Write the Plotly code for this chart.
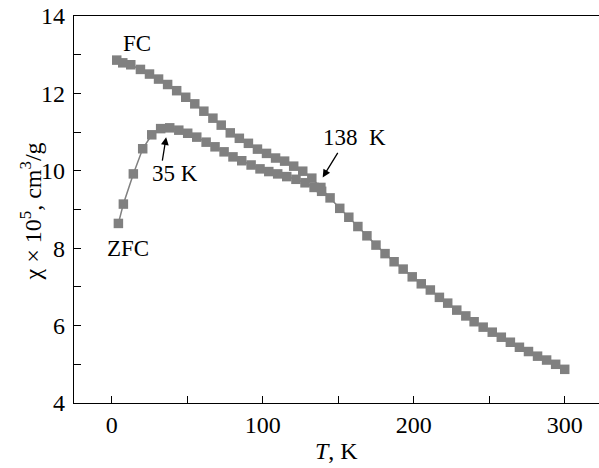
import plotly.graph_objects as go

# Field-cooled (FC) data: temperature (K) and chi x 10^5 (cm^3/g)
fc_T = [3.3, 7.3, 12.6, 19, 25, 31, 37, 43, 49, 55, 61, 67, 72.5, 78.5, 84.5, 90.5,
        96.5, 102.5, 108.5, 114.5, 120.5, 126.5, 132.5, 138.5, 144.6, 151, 157, 163,
        169, 175, 181, 187, 193, 199, 205, 211, 217, 222.5, 228.5, 234.5, 240, 246,
        252, 258, 264, 270, 276, 282, 288, 294, 300]
fc_chi = [12.86, 12.79, 12.74, 12.62, 12.50, 12.37, 12.23, 12.07, 11.90, 11.73, 11.54,
          11.36, 11.18, 10.98, 10.84, 10.71, 10.56, 10.45, 10.33, 10.25, 10.12, 9.99,
          9.81, 9.57, 9.30, 9.03, 8.80, 8.56, 8.32, 8.08, 7.86, 7.65, 7.46, 7.26, 7.08,
          6.92, 6.73, 6.58, 6.40, 6.25, 6.10, 5.96, 5.83, 5.70, 5.57, 5.44, 5.33, 5.21,
          5.11, 5.00, 4.87]

# Zero-field-cooled (ZFC) data
zfc_T = [4.4, 7.7, 14.3, 20.5, 26.5, 32.4, 38.4, 44.4, 50.3, 56.3, 62.5, 68.4, 74.4,
         80.3, 86.1, 92.3, 98.2, 104, 109.9, 115.9, 122, 128, 134, 139]
zfc_chi = [8.64, 9.14, 9.92, 10.57, 10.93, 11.09, 11.11, 11.05, 10.97, 10.87, 10.74,
           10.62, 10.49, 10.36, 10.26, 10.15, 10.05, 9.98, 9.92, 9.85, 9.78, 9.69, 9.57,
           9.47]

x_ticks = [0, 50, 100, 150, 200, 250, 300]
x_labels = ["0", "", "100", "", "200", "", "300"]
y_ticks = [4, 5, 6, 7, 8, 9, 10, 11, 12, 13, 14]
y_labels = ["4", "", "6", "", "8", "", "10", "", "12", "", "14"]

GREY = "#808080"
FONT = "Liberation Serif, Times New Roman, Times, serif"

fig = go.Figure()
fig.add_trace(go.Scatter(x=zfc_T, y=zfc_chi, mode="lines+markers",
                         line=dict(color=GREY, width=1.5),
                         marker=dict(symbol="square", size=9.5, color=GREY),
                         showlegend=False))
fig.add_trace(go.Scatter(x=fc_T, y=fc_chi, mode="lines+markers",
                         line=dict(color=GREY, width=1.5),
                         marker=dict(symbol="square", size=9.5, color=GREY),
                         showlegend=False))

axis_common = dict(showline=True, linecolor="black", linewidth=1.3, ticks="inside",
                   ticklen=7, tickwidth=1.2, tickcolor="black", showgrid=False,
                   zeroline=False, tickfont=dict(family=FONT, size=24, color="black"))

fig.update_xaxes(range=[-25, 322.7], tickvals=x_ticks, ticktext=x_labels,
                 mirror=True, **axis_common)
fig.update_yaxes(range=[4, 14], tickvals=y_ticks, ticktext=y_labels,
                 mirror=False, ticklabelstandoff=3, **axis_common)

ann_font = dict(family=FONT, size=23, color="black")
annotations = [
    dict(x=16.6, y=13.30, text="FC", showarrow=False, font=ann_font),
    dict(x=10.8, y=8.0, text="ZFC", showarrow=False, font=ann_font),
    dict(x=41.9, y=9.92, text="35 K", showarrow=False, font=ann_font),
    dict(x=160.5, y=10.87, text="138  K", showarrow=False, font=ann_font),
    dict(x=36, y=10.87, ax=-4, ay=25, text="", showarrow=True, arrowhead=2,
         arrowsize=1.2, arrowwidth=1.3, arrowcolor="black"),
    dict(x=139.7, y=9.83, ax=16, ay=-26, text="", showarrow=True, arrowhead=2,
         arrowsize=1.2, arrowwidth=1.3, arrowcolor="black"),
    dict(xref="paper", yref="paper", x=-0.082, y=0.495, textangle=-90,
         xanchor="center", yanchor="middle",
         text="χ × 10<sup>5</sup>, cm<sup>3</sup>/g", showarrow=False,
         font=dict(family=FONT, size=24, color="black")),
    dict(xref="paper", yref="paper", x=0.5, y=-0.125, text="<i>T</i>, K",
         xanchor="center", yanchor="middle",
         showarrow=False, font=dict(family=FONT, size=24, color="black")),
]
fig.update_layout(width=599, height=468, margin=dict(l=74, r=0, t=16, b=65),
                  plot_bgcolor="white", paper_bgcolor="white",
                  annotations=annotations)

fig.write_html("out.html")
